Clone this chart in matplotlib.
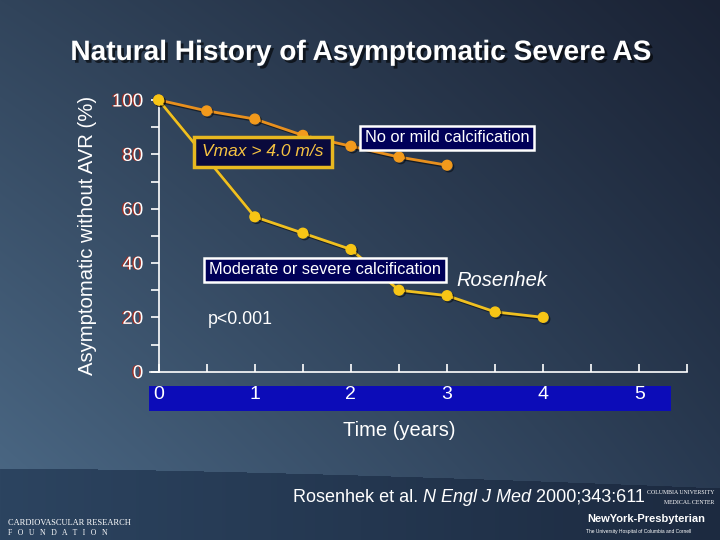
import numpy as np
import matplotlib
matplotlib.use("Agg")
import matplotlib.pyplot as plt
import matplotlib.patheffects as pe
from matplotlib.patches import Rectangle

# ---- data ----
years_mild = [0, 0.5, 1, 1.5, 2, 2.5, 3]
free_mild = [100, 96, 93, 87, 83, 79, 76]
years_severe = [0, 1, 1.5, 2, 2.5, 3, 3.5, 4]
free_severe = [100, 57, 51, 45, 30, 28, 22, 20]
xtick_major = [0, 1, 2, 3, 4, 5]
xtick_minor = [0.5, 1.5, 2.5, 3.5, 4.5, 5.5]
ytick_major = [0, 20, 40, 60, 80, 100]
ytick_minor = [10, 30, 50, 70, 90]

plt.rcParams['font.family'] = ['Liberation Sans', 'DejaVu Sans']

W, H = 720, 540
fig = plt.figure(figsize=(7.2, 5.4), dpi=100)

def px(x, y):
    return x / W, 1 - y / H

# ---- background gradient ----
bg = fig.add_axes([0, 0, 1, 1], zorder=-10)
bg.axis('off')
yy, xx = np.mgrid[0:H, 0:W]
u = xx / W
v = yy / H
def hexrgb(h):
    h = h.lstrip('#')
    return np.array([int(h[i:i + 2], 16) / 255 for i in (0, 2, 4)])
TL, TR, BL, BR = hexrgb('#31445b'), hexrgb('#1a2234'), hexrgb('#4d6b88'), hexrgb('#2a3c54')
img = ((1 - u)[..., None] * (1 - v)[..., None] * TL + u[..., None] * (1 - v)[..., None] * TR
       + (1 - u)[..., None] * v[..., None] * BL + u[..., None] * v[..., None] * BR)
# footer band
edge = 468 + 20 * (u) ** 1.5
FL, FR = hexrgb('#2c4460'), hexrgb('#1c2a40')
foot = (1 - u)[..., None] * FL + u[..., None] * FR
mask = (yy > edge)[..., None]
img = np.where(mask, foot, img)
bg.imshow(img, extent=[0, 1, 0, 1], aspect='auto', origin='upper', interpolation='bilinear')
bg.set_xlim(0, 1)
bg.set_ylim(0, 1)

# blue band for x tick labels
fig.patches.append(Rectangle(px(149, 411), 522 / W, 25 / H, transform=fig.transFigure,
                             facecolor='#0c0cb8', edgecolor='none', zorder=1))

# ---- main axes ----
ax = fig.add_axes([150 / W, 1 - 371.7 / H, 537.4 / W, 271.7 / H], zorder=2)
ax.patch.set_alpha(0)
ax.set_xlim(-0.09, 5.5)
ax.set_ylim(0, 100)
for s in ['top', 'right']:
    ax.spines[s].set_visible(False)
ax.spines['left'].set_position(('data', 0))
for s in ['left', 'bottom']:
    ax.spines[s].set_color('white')
    ax.spines[s].set_linewidth(1.2)

ax.set_xticks(xtick_major)
ax.set_xticks(xtick_minor, minor=True)
ax.set_yticks(ytick_major)
ax.set_yticks(ytick_minor, minor=True)
ax.tick_params(axis='x', which='both', direction='in', length=6, width=1.2, color='white',
               labelcolor='white', labelsize=14, pad=10)
ax.tick_params(axis='y', which='both', direction='out', length=6, width=1.2, color='white',
               labelcolor='white', labelsize=13.5, pad=5)
ax.tick_params(axis='x', which='minor', labelbottom=False)
for lab in ax.get_yticklabels():
    lab.set_path_effects([pe.SimplePatchShadow(offset=(-1, 0), shadow_rgbFace='#b02818', alpha=0.9),
                          pe.Normal()])

shadow = [pe.SimpleLineShadow(offset=(1.2, -1.2), shadow_color='black', alpha=0.5), pe.Normal()]
ax.plot(years_mild, free_mild, color='#e8901e', lw=2, marker='o', ms=7,
        mfc='#f29a1c', mec='#f29a1c', clip_on=False, zorder=3, path_effects=shadow)
ax.plot(years_severe, free_severe, color='#f0c020', lw=2, marker='o', ms=7,
        mfc='#f7c515', mec='#f7c515', clip_on=False, zorder=4, path_effects=shadow)

# ---- texts ----
t = fig.text(*px(361, 53), 'Natural History of Asymptomatic Severe AS', ha='center', va='center',
             fontsize=20.2, fontweight='bold', color='white', zorder=5)
t.set_path_effects([pe.SimplePatchShadow(offset=(2, -2), shadow_rgbFace='black', alpha=0.6), pe.Normal()])

fig.text(*px(88, 235), 'Asymptomatic without AVR (%)', rotation=90, ha='center', va='center',
         fontsize=14.6, color='white')
fig.text(*px(399, 431), 'Time (years)', ha='center', va='center', fontsize=14.5, color='white')

fig.text(*px(263, 152), 'Vmax > 4.0 m/s', ha='center', va='center', fontsize=12.5, style='italic',
         color='#f5c242', zorder=6,
         bbox=dict(boxstyle='square,pad=0.45', facecolor='#0a0a3c', edgecolor='#e8b820', linewidth=2.5))
fig.text(*px(447, 138), 'No or mild calcification', ha='center', va='center', fontsize=11.8,
         color='white', zorder=6,
         bbox=dict(boxstyle='square,pad=0.3', facecolor='#000058', edgecolor='white', linewidth=1.8))
fig.text(*px(325, 270), 'Moderate or severe calcification', ha='center', va='center', fontsize=11.8,
         color='white', zorder=6,
         bbox=dict(boxstyle='square,pad=0.3', facecolor='#000058', edgecolor='white', linewidth=1.8))
fig.text(*px(502, 280), 'Rosenhek', ha='center', va='center', fontsize=14.5, style='italic', color='white')
fig.text(*px(240, 320), 'p<0.001', ha='center', va='center', fontsize=12.8, color='white')

# citation with mixed styles
fig.canvas.draw()
r = fig.canvas.get_renderer()
x0 = 293
parts = [('Rosenhek et al. ', 'normal'), ('N Engl J Med', 'italic'), (' 2000;343:611', 'normal')]
for txt, st in parts:
    tt = fig.text(*px(x0, 497), txt, ha='left', va='center', fontsize=13, style=st, color='white', zorder=5)
    ext = tt.get_window_extent(renderer=r)
    x0 += ext.width

# footer logos (as text)
fig.text(*px(8, 523), 'CARDIOVASCULAR RESEARCH', fontsize=6, family='Liberation Serif', color='white',
         ha='left', va='center')
fig.text(*px(8, 533), 'F   O   U   N   D   A   T   I   O   N', fontsize=5.5, family='Liberation Serif',
         color='white', ha='left', va='center')
fig.text(*px(714, 492), 'COLUMBIA UNIVERSITY', fontsize=4.2, family='Liberation Serif', color='white',
         ha='right', va='center')
fig.text(*px(714, 502), 'MEDICAL CENTER', fontsize=4.2, family='Liberation Serif', color='white',
         ha='right', va='center')
fig.text(*px(587, 519), 'NewYork-Presbyterian', fontsize=8, fontweight='bold', color='white',
         ha='left', va='center')
fig.text(*px(586, 532), 'The University Hospital of Columbia and Cornell', fontsize=3.5, color='white',
         ha='left', va='center')

fig.savefig('out.png', dpi=100)
